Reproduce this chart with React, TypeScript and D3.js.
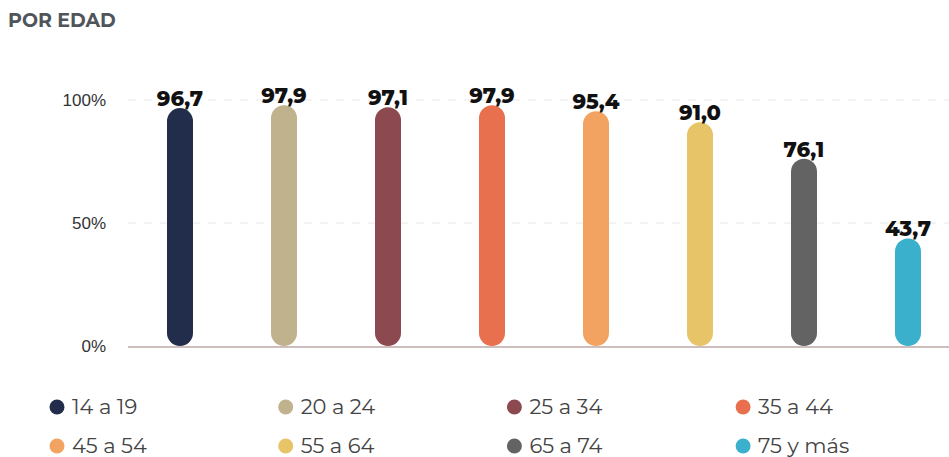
import React from "react";
import * as d3 from "d3";

const categories = ["14 a 19", "20 a 24", "25 a 34", "35 a 44", "45 a 54", "55 a 64", "65 a 74", "75 y más"];
const values = [96.7, 97.9, 97.1, 97.9, 95.4, 91.0, 76.1, 43.7];
const colors = ["#222d4b", "#bfb28d", "#8c4a50", "#e8704f", "#f3a361", "#e8c468", "#636363", "#3ab0cc"];
const yTicks = [0, 50, 100];

const W = 949;
const H = 457;

export default function App() {
  const x = d3.scaleBand<string>().domain(categories).range([128, 960]).padding(0);
  const y = d3.scaleLinear().domain([0, 100]).range([346, 100]);
  const bw = 26;
  const fmt = (v: number) => v.toFixed(1).replace(".", ",");
  const font = "Montserrat, 'Open Sans', 'Noto Sans', sans-serif";
  const axisFont = "'Liberation Sans', Arial, sans-serif";
  return (
    <svg width={W} height={H} style={{ position: "absolute", left: 0, top: 0, background: "#fff" }}>
      <text x={8} y={27} fontFamily={font} fontWeight={700} fontSize={19} fill="#50555c">POR EDAD</text>
      {yTicks.map((t) => (
        <g key={t}>
          {t > 0 && (
            <line x1={128} x2={W} y1={y(t)} y2={y(t)} stroke="#e8e8e8" strokeWidth={1} strokeDasharray="8,8" />
          )}
          <text x={106} y={y(t) + 6} textAnchor="end" fontFamily={axisFont} fontSize={17} fill="#333">{t}%</text>
        </g>
      ))}
      <line x1={128} x2={W} y1={y(0) + 1} y2={y(0) + 1} stroke="#cdbdbd" strokeWidth={2} />
      {categories.map((c, i) => {
        const cx = (x(c) as number) + x.bandwidth() / 2;
        const top = y(values[i]);
        return (
          <g key={c}>
            <rect x={cx - bw / 2} y={top} width={bw} height={y(0) - top} rx={bw / 2} ry={bw / 2} fill={colors[i]} />
            <text x={cx} y={top - 2} textAnchor="middle" fontFamily={font} fontWeight={800} fontSize={21} fill="#111">{fmt(values[i])}</text>
          </g>
        );
      })}
      {categories.map((c, i) => {
        const col = i % 4;
        const row = Math.floor(i / 4);
        const lx = 57 + col * 228.7;
        const ly = 407 + row * 39;
        return (
          <g key={"l" + c}>
            <circle cx={lx} cy={ly} r={7.5} fill={colors[i]} />
            <text x={lx + 15} y={ly + 7} fontFamily={font} fontSize={21} fill="#444">{c}</text>
          </g>
        );
      })}
    </svg>
  );
}
